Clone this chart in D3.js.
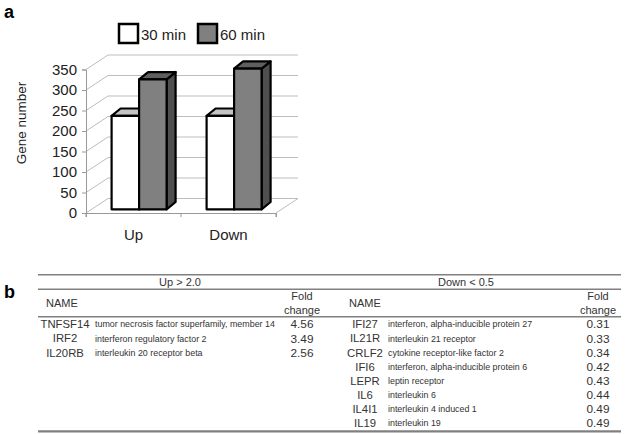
<!DOCTYPE html>
<html>
<head>
<meta charset="utf-8">
<script src="https://cdn.jsdelivr.net/npm/d3@7"></script>
<style>
  body { margin: 0; background: #fff; }
  svg { font-family: "Liberation Sans", Arial, sans-serif; }
</style>
</head>
<body>
<div id="chart"></div>
<script>
// panel a data
const categories = ["Up", "Down"];
const seriesNames = ["30 min", "60 min"];
const values30 = [228, 228];
const values60 = [317, 343];
const yTicks = [0, 50, 100, 150, 200, 250, 300, 350];

// panel b data
const upGenes = ["TNFSF14", "IRF2", "IL20RB"];
const upDesc = ["tumor necrosis factor superfamily, member 14", "interferon regulatory factor 2", "interleukin 20 receptor beta"];
const upFold = ["4.56", "3.49", "2.56"];
const downGenes = ["IFI27", "IL21R", "CRLF2", "IFI6", "LEPR", "IL6", "IL4I1", "IL19"];
const downDesc = ["interferon, alpha-inducible protein 27", "interleukin 21 receptor", "cytokine receptor-like factor 2",
  "interferon, alpha-inducible protein 6", "leptin receptor", "interleukin 6", "interleukin 4 induced 1", "interleukin 19"];
const downFold = ["0.31", "0.33", "0.34", "0.42", "0.43", "0.44", "0.49", "0.49"];

const W = 625, H = 434;
const svg = d3.select("#chart").append("svg")
  .attr("width", W).attr("height", H);

// ---------- panel a ----------
const wall = { dx: 22, dy: -14.5 };     // back wall offset
const barOff = { dx: 5.6, dy: -3.7 };   // bars sit a little behind the front
const barDepth = { dx: 9, dy: -7.3 };   // bar thickness

const y = d3.scaleLinear().domain([0, 350]).range([213, 69.5]);
const x = d3.scaleBand().domain(categories).range([86, 276]);
const barW = 27.5;
const sub = d3.scaleBand().domain(seriesNames).range([-barW, barW]);

svg.append("text").attr("x", 4).attr("y", 18)
  .attr("font-weight", "bold").attr("font-size", 18).text("a");

const grid = svg.append("g").attr("stroke", "#bdbdbd").attr("stroke-width", 1).attr("fill", "none");
// back wall gridlines
grid.selectAll(".back").data(yTicks).join("line")
  .attr("x1", 86 + wall.dx).attr("x2", 276 + wall.dx)
  .attr("y1", d => y(d) + wall.dy).attr("y2", d => y(d) + wall.dy);
// side wall diagonals
grid.selectAll(".side").data(yTicks).join("line")
  .attr("x1", 86).attr("x2", 86 + wall.dx)
  .attr("y1", d => y(d)).attr("y2", d => y(d) + wall.dy);
// floor right edge
grid.append("line")
  .attr("x1", 276).attr("y1", y(0)).attr("x2", 276 + wall.dx).attr("y2", y(0) + wall.dy);

// axes
const yAxis = svg.append("g").attr("transform", "translate(86,0)")
  .call(d3.axisLeft(y).tickValues(yTicks).tickSize(4).tickPadding(5));
const xAxis = svg.append("g").attr("transform", "translate(0," + y(0) + ")")
  .call(d3.axisBottom(x).tickSize(4).tickPadding(12).tickFormat(d => d));
xAxis.selectAll(".tick line").remove();
xAxis.selectAll(".edge").data([86, (86 + 276) / 2, 276]).join("line")
  .attr("x1", d => d).attr("x2", d => d).attr("y1", 0).attr("y2", 4)
  .attr("stroke", "#999");
[yAxis, xAxis].forEach(a => {
  a.select(".domain").attr("stroke", "#999");
  a.selectAll(".tick line").attr("stroke", "#999");
  a.selectAll("text").attr("font-size", 15).attr("fill", "#222")
    .attr("font-family", "Liberation Sans, Arial, sans-serif");
});

svg.append("text")
  .attr("transform", "translate(26,123) rotate(-90)")
  .attr("text-anchor", "middle").attr("font-size", 13.5).attr("fill", "#222")
  .text("Gene number");

// bars
const bars = [];
categories.forEach((c, i) => {
  bars.push({ cat: c, s: seriesNames[0], v: values30[i], front: "#ffffff", top: "#c4c4c4", side: "#9a9a9a" });
  bars.push({ cat: c, s: seriesNames[1], v: values60[i], front: "#808080", top: "#5f5f5f", side: "#4f4f4f" });
});
const barG = svg.append("g").attr("stroke", "#000").attr("stroke-width", 2.2).attr("stroke-linejoin", "round");
bars.forEach(b => {
  const x0 = x(b.cat) + x.bandwidth() / 2 + sub(b.s) + barOff.dx;
  const x1 = x0 + barW;
  const yb = y(0) + barOff.dy;
  const yt = y(b.v) + barOff.dy;
  const g = barG.append("g");
  g.append("path").attr("fill", b.side)
    .attr("d", `M${x1},${yt}L${x1 + barDepth.dx},${yt + barDepth.dy}L${x1 + barDepth.dx},${yb + barDepth.dy}L${x1},${yb}Z`);
  g.append("path").attr("fill", b.top)
    .attr("d", `M${x0},${yt}L${x0 + barDepth.dx},${yt + barDepth.dy}L${x1 + barDepth.dx},${yt + barDepth.dy}L${x1},${yt}Z`);
  g.append("rect").attr("fill", b.front)
    .attr("x", x0).attr("y", yt).attr("width", barW).attr("height", yb - yt);
});

// legend
const legend = svg.append("g");
const legX = [119, 198];
seriesNames.forEach((s, i) => {
  legend.append("rect").attr("x", legX[i]).attr("y", 24).attr("width", 19).attr("height", 19)
    .attr("fill", i === 0 ? "#fff" : "#808080").attr("stroke", "#000").attr("stroke-width", 2.5);
  legend.append("text").attr("x", legX[i] + 22).attr("y", 40)
    .attr("font-size", 15).attr("fill", "#222").text(s);
});

// ---------- panel b ----------
svg.append("text").attr("x", 4).attr("y", 298)
  .attr("font-weight", "bold").attr("font-size", 18).text("b");

const tbl = svg.append("g").attr("fill", "#333");
const ruleColor = "#808080";
[274.8, 289.3, 316.7, 431.3].forEach((ly, i) => {
  tbl.append("line").attr("x1", 38).attr("x2", 621).attr("y1", ly).attr("y2", ly)
    .attr("stroke", ruleColor).attr("stroke-width", i === 3 ? 2.2 : 1.6);
});

tbl.append("text").attr("x", 180).attr("y", 286).attr("text-anchor", "middle")
  .attr("font-size", 11).text("Up > 2.0");
tbl.append("text").attr("x", 466).attr("y", 286).attr("text-anchor", "middle")
  .attr("font-size", 11).text("Down < 0.5");

const headers = [
  { name: 46, fold: 302 },
  { name: 349, fold: 598 }
];
headers.forEach(h => {
  tbl.append("text").attr("x", h.name).attr("y", 307).attr("font-size", 11).text("NAME");
  tbl.append("text").attr("x", h.fold).attr("y", 300).attr("text-anchor", "middle").attr("font-size", 11).text("Fold");
  tbl.append("text").attr("x", h.fold).attr("y", 314).attr("text-anchor", "middle").attr("font-size", 11).text("change");
});

const row = d3.scaleLinear().domain([0, 7]).range([324.2, 423.2]);

function drawRows(genes, desc, fold, nameX, descX, foldX) {
  const g = tbl.append("g");
  const r = g.selectAll("g").data(genes).join("g")
    .attr("transform", (d, i) => `translate(0,${row(i)})`);
  r.append("text").attr("x", nameX).attr("dy", "0.36em").attr("text-anchor", "middle")
    .attr("font-size", 11.3).text(d => d);
  r.append("text").attr("x", descX).attr("dy", "0.36em")
    .attr("font-size", 8.9).text((d, i) => desc[i]);
  r.append("text").attr("x", foldX).attr("dy", "0.36em").attr("text-anchor", "middle")
    .attr("font-size", 11.8).text((d, i) => fold[i]);
}
drawRows(upGenes, upDesc, upFold, 65, 95, 302);
drawRows(downGenes, downDesc, downFold, 365, 388, 598);
</script>
</body>
</html>
